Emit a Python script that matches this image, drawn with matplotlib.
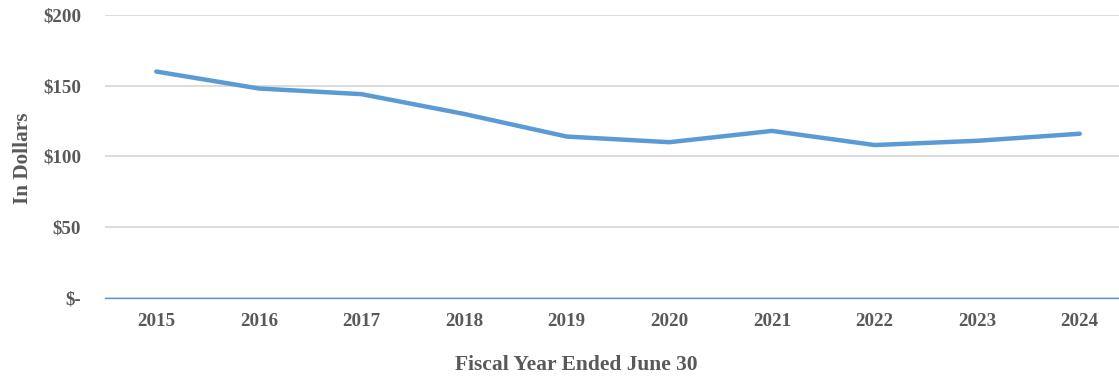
import matplotlib
matplotlib.use("Agg")
import matplotlib.pyplot as plt
from matplotlib.ticker import FuncFormatter

years = ["2015", "2016", "2017", "2018", "2019", "2020", "2021", "2022", "2023", "2024"]
cost = [160, 148, 144, 130, 114, 110, 118, 108, 111, 116]
y_ticks = [0, 50, 100, 150, 200]

plt.rcParams["font.family"] = ["Liberation Serif", "DejaVu Serif"]
text_color = "#595959"
line_color = "#5B9BD5"

fig = plt.figure(figsize=(11.19, 3.76), dpi=100)
ax = fig.add_axes([0.0938, 0.2083, 0.917, 0.7518])

x = list(range(len(years)))
ax.plot(x, cost, color=line_color, linewidth=3.2, solid_capstyle="round",
        solid_joinstyle="round", zorder=3)

ax.set_xlim(-0.5, len(years) - 0.5)
ax.set_ylim(0, 200)
ax.set_yticks(y_ticks)
ax.yaxis.set_major_formatter(FuncFormatter(lambda v, p: "$-" if v == 0 else f"${v:.0f}"))
ax.set_xticks(x)
ax.set_xticklabels(years)

ax.grid(axis="y", color="#D9D9D9", linewidth=1.3, zorder=0)
ax.set_axisbelow(True)
for side in ("top", "right", "left"):
    ax.spines[side].set_visible(False)
ax.spines["bottom"].set_color(line_color)
ax.spines["bottom"].set_linewidth(1.0)
ax.spines["bottom"].set_zorder(2)

ax.tick_params(axis="both", length=0, labelsize=13.7, labelcolor=text_color)
ax.tick_params(axis="y", pad=17)
ax.tick_params(axis="x", pad=11)
for lbl in ax.get_xticklabels() + ax.get_yticklabels():
    lbl.set_fontweight("bold")

fig.text(0.0205, 0.58, "In Dollars", rotation=90, ha="center", va="center",
         fontsize=15.3, fontweight="bold", color=text_color)
fig.text(0.515, 0.028, "Fiscal Year Ended June 30", ha="center", va="center",
         fontsize=15.5, fontweight="bold", color=text_color)

fig.savefig("out.png", dpi=100)
